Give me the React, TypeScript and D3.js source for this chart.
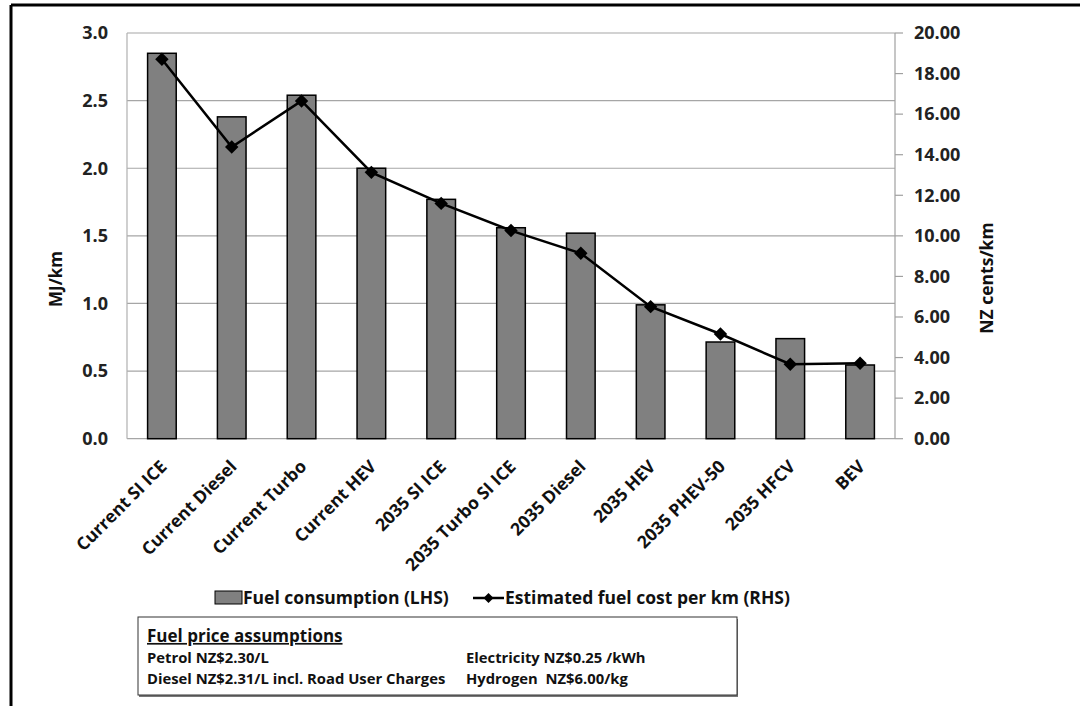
import React from "react";
import * as d3 from "d3";

const categories = [
  "Current SI ICE",
  "Current Diesel",
  "Current Turbo",
  "Current HEV",
  "2035 SI ICE",
  "2035 Turbo SI ICE",
  "2035 Diesel",
  "2035 HEV",
  "2035 PHEV-50",
  "2035 HFCV",
  "BEV",
];
const fuelConsumption = [2.85, 2.38, 2.54, 2.0, 1.77, 1.56, 1.52, 0.99, 0.715, 0.74, 0.545];
const fuelCost = [18.71, 14.38, 16.65, 13.13, 11.6, 10.26, 9.14, 6.51, 5.16, 3.67, 3.72];
const leftTicks = [0, 0.5, 1.0, 1.5, 2.0, 2.5, 3.0];
const rightTicks = [0, 2, 4, 6, 8, 10, 12, 14, 16, 18, 20];
const legendLabels = ["Fuel consumption (LHS)", "Estimated fuel cost per km (RHS)"];
const boxTitle = "Fuel price assumptions";
const boxLeft = ["Petrol NZ$2.30/L", "Diesel NZ$2.31/L incl. Road User Charges"];
const boxRight = ["Electricity NZ$0.25 /kWh", "Hydrogen  NZ$6.00/kg"];

const FONT = "'Open Sans', Lato, sans-serif";

export default function App() {
  const W = 1080;
  const H = 706;
  const left = 127;
  const right = 895;
  const top = 33;
  const bottom = 438.7;

  const x = d3.scaleBand<string>().domain(categories).range([left, right]).paddingInner(0.59).paddingOuter(0.295);
  const yL = d3.scaleLinear().domain([0, 3]).range([bottom, top]);
  const yR = d3.scaleLinear().domain([0, 20]).range([bottom, top]);
  const cx = (c: string) => (x(c) as number) + x.bandwidth() / 2;

  const linePath = d3
    .line<number>()
    .x((_, i) => cx(categories[i]))
    .y((d) => yR(d))(fuelCost) as string;

  const diamond = d3.symbol().type(d3.symbolSquare).size(90)() as string;

  return (
    <svg
      width={W}
      height={H}
      style={{ position: "absolute", left: 0, top: 0, background: "#fff" }}
      fontFamily={FONT}
    >
      <rect x={0} y={0} width={W} height={H} fill="#fff" />
      {/* outer frame */}
      <line x1={11} y1={5} x2={W} y2={5} stroke="#000" strokeWidth={3} />
      <line x1={11} y1={5} x2={11} y2={H} stroke="#000" strokeWidth={3} />

      {/* gridlines */}
      {leftTicks.map((t) => (
        <line key={"g" + t} x1={left} x2={right} y1={yL(t)} y2={yL(t)} stroke="#a6a6a6" strokeWidth={1.2} />
      ))}
      {/* axes lines */}
      <line x1={left} x2={left} y1={top} y2={bottom} stroke="#b0b0b0" strokeWidth={1.2} />
      <line x1={right} x2={right} y1={top} y2={bottom} stroke="#a0a0a0" strokeWidth={1.2} />
      {rightTicks.map((t) => (
        <line key={"rt" + t} x1={right} x2={right + 8} y1={yR(t)} y2={yR(t)} stroke="#a0a0a0" strokeWidth={1.2} />
      ))}

      {/* left tick labels */}
      {leftTicks.map((t) => (
        <text key={"lt" + t} x={108} y={yL(t)} dy="0.35em" textAnchor="end" fontSize={18} fontWeight={700} fill="#222">
          {d3.format(".1f")(t)}
        </text>
      ))}
      {/* right tick labels */}
      {rightTicks.map((t) => (
        <text key={"rl" + t} x={914} y={yR(t)} dy="0.35em" textAnchor="start" fontSize={18} fontWeight={700} fill="#222">
          {d3.format(".2f")(t)}
        </text>
      ))}

      {/* axis titles */}
      <text transform={`translate(62,279) rotate(-90)`} textAnchor="middle" fontSize={17} fontWeight={700} fill="#111">
        MJ/km
      </text>
      <text transform={`translate(993,278) rotate(-90)`} textAnchor="middle" fontSize={17.5} fontWeight={700} fill="#111">
        NZ cents/km
      </text>

      {/* bars */}
      {categories.map((c, i) => (
        <rect
          key={"b" + c}
          x={x(c)}
          y={yL(fuelConsumption[i])}
          width={x.bandwidth()}
          height={bottom - yL(fuelConsumption[i])}
          fill="#808080"
          stroke="#000"
          strokeWidth={1.5}
        />
      ))}

      {/* line */}
      <path d={linePath} fill="none" stroke="#000" strokeWidth={2.5} />
      {fuelCost.map((v, i) => (
        <path
          key={"m" + i}
          d={diamond}
          transform={`translate(${cx(categories[i])},${yR(v)}) rotate(45)`}
          fill="#000"
        />
      ))}

      {/* x labels */}
      {categories.map((c) => (
        <text
          key={"xl" + c}
          transform={`translate(${cx(c) + 6},${bottom + 29}) rotate(-45)`}
          textAnchor="end"
          fontSize={17.5}
          fontWeight={700}
          fill="#111"
        >
          {c}
        </text>
      ))}

      {/* legend */}
      <rect x={215} y={591} width={27} height={13} fill="#808080" stroke="#000" strokeWidth={1} />
      <text x={243} y={598} dy="0.35em" fontSize={17.5} fontWeight={700} fill="#111">
        {legendLabels[0]}
      </text>
      <line x1={473} x2={504} y1={598} y2={598} stroke="#000" strokeWidth={2.5} />
      <path d={d3.symbol().type(d3.symbolSquare).size(50)() as string} transform="translate(488.5,598) rotate(45)" fill="#000" />
      <text x={505} y={598} dy="0.35em" fontSize={17.5} fontWeight={700} fill="#111">
        {legendLabels[1]}
      </text>

      {/* assumptions box */}
      <rect x={139} y={619} width={599} height={78} fill="#777" />
      <rect x={138} y={617} width={599} height={78} fill="#fff" stroke="#333" strokeWidth={1} />
      <text x={147} y={636} dy="0.35em" fontSize={17} fontWeight={700} fill="#111" textDecoration="underline">
        {boxTitle}
      </text>
      {boxLeft.map((t, i) => (
        <text key={"bl" + i} x={147} y={658 + i * 21} dy="0.35em" fontSize={14.8} fontWeight={700} fill="#111">
          {t}
        </text>
      ))}
      {boxRight.map((t, i) => (
        <text key={"br" + i} x={466} y={658 + i * 21} dy="0.35em" fontSize={14.8} fontWeight={700} fill="#111" style={{ whiteSpace: "pre" }}>
          {t}
        </text>
      ))}
    </svg>
  );
}
